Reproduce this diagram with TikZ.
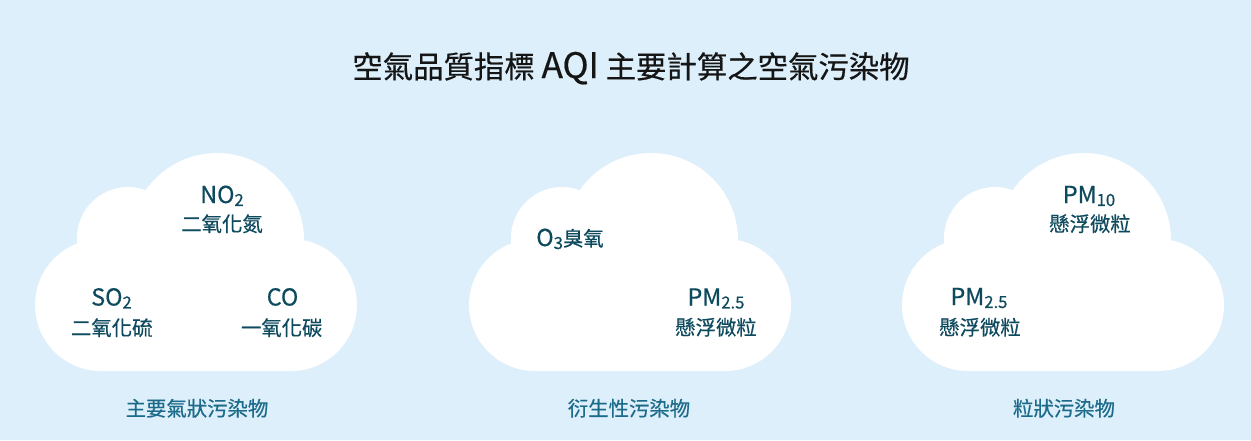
\documentclass[tikz,border=0pt]{standalone}
\usepackage{fontspec}
\setmainfont{Noto Sans CJK TC}[FakeBold=0.5]
\definecolor{bg}{HTML}{DDEFFB}
\definecolor{ink}{HTML}{0E4A5E}
\definecolor{capc}{HTML}{1D6B8B}
\definecolor{ttl}{HTML}{151515}
\newcommand\cjkf{\fontsize{11.6}{14}\selectfont}
\newcommand\latf{\fontsize{13.3}{16}\selectfont}
\newcommand\sbs[1]{\raisebox{-1.7pt}{\fontsize{9.5}{11}\selectfont #1}}
\tikzset{
  cloudbody/.style={fill=white},
  lbl/.style={inner sep=0pt, anchor=base, text=ink},
  capt/.style={inner sep=0pt, anchor=base, text=capc, font=\cjkf},
}
\newcommand\cloudshape{%
  \fill[cloudbody] (101,305) circle[radius=1.32cm]
                   (291,305) circle[radius=1.32cm]
                   (128,238) circle[radius=1.02cm]
                   (217,240) circle[radius=1.74cm]
                   (101,250) rectangle (291,371);}
\begin{document}
\begin{tikzpicture}[x=0.02cm,y=-0.02cm]
\useasboundingbox (0,0) rectangle (1251,440);
\fill[bg] (0,0) rectangle (1251,440);
\node[inner sep=0pt, anchor=base, text=ttl, font=\fontsize{17.3}{20}\selectfont] (title) at (631,78)
  {空氣品質指標 {\fontsize{20}{22}\selectfont AQI} 主要計算之空氣污染物};
% clouds
\cloudshape
\begin{scope}[shift={(434,0)}]\cloudshape\end{scope}
\begin{scope}[shift={(867,0)}]\cloudshape\end{scope}
% cloud 1 texts
\node[lbl, font=\latf] (no2) at (222,203) {NO\sbs{2}};
\node[lbl, font=\cjkf] (no2c) at (222,231.5) {二氧化氮};
\node[lbl, font=\latf] (so2) at (111.5,305.5) {SO\sbs{2}};
\node[lbl, font=\cjkf] (so2c) at (111.7,335.5) {二氧化硫};
\node[lbl, font=\latf] (co) at (282.5,305.5) {CO};
\node[lbl, font=\cjkf] (coc) at (281.7,335.5) {一氧化碳};
% cloud 2 texts
\node[lbl, font=\latf] (o3) at (570,246) {O\sbs{3}\cjkf 臭氧};
\node[lbl, font=\latf] (pm25a) at (716,305.5) {PM\sbs{2.5}};
\node[lbl, font=\cjkf] (pm25ac) at (716,335) {懸浮微粒};
% cloud 3 texts
\node[lbl, font=\latf] (pm10) at (1089,203) {PM\sbs{10}};
\node[lbl, font=\cjkf] (pm10c) at (1090,231.5) {懸浮微粒};
\node[lbl, font=\latf] (pm25b) at (979,305) {PM\sbs{2.5}};
\node[lbl, font=\cjkf] (pm25bc) at (980,335) {懸浮微粒};
% captions
\node[capt] (cap1) at (197,416) {主要氣狀污染物};
\node[capt] (cap2) at (629,416) {衍生性污染物};
\node[capt] (cap3) at (1064,416) {粒狀污染物};
\end{tikzpicture}
\end{document}
